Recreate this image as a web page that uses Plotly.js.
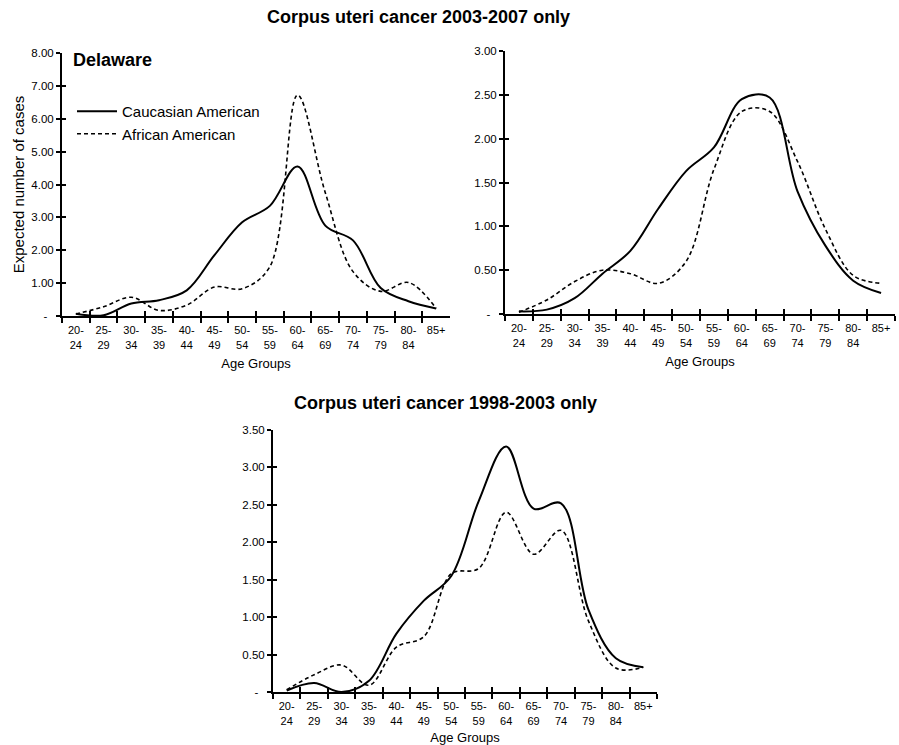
<!DOCTYPE html>
<html>
<head>
<meta charset="utf-8">
<script src="https://cdn.plot.ly/plotly-3.0.1.min.js"></script>
<style>
  html, body { margin: 0; padding: 0; background: #fff; }
  #chart { width: 899px; height: 745px; }
</style>
</head>
<body>
<div id="chart"></div>
<script>
// Age groups shown on every category axis
const ageGroups = ["20-<br>24", "25-<br>29", "30-<br>34", "35-<br>39", "40-<br>44", "45-<br>49",
  "50-<br>54", "55-<br>59", "60-<br>64", "65-<br>69", "70-<br>74", "75-<br>79", "80-<br>84", "85+"];

// Delaware, 2003-2007 (left panel)
const delawareCaucasian = [0.07, 0.02, 0.38, 0.48, 0.78, 1.85, 2.85, 3.35, 4.55, 2.75, 2.30, 0.85, 0.45, 0.23];
const delawareAfrican   = [0.06, 0.28, 0.57, 0.17, 0.33, 0.88, 0.83, 1.50, 6.72, 3.75, 1.35, 0.75, 1.02, 0.23];

// 2003-2007 (right panel)
const rightCaucasian = [0.03, 0.05, 0.18, 0.46, 0.72, 1.20, 1.63, 1.90, 2.45, 2.47, 1.40, 0.78, 0.38, 0.24];
const rightAfrican   = [0.02, 0.16, 0.37, 0.50, 0.46, 0.35, 0.60, 1.65, 2.31, 2.31, 1.74, 0.97, 0.44, 0.35];

// 1998-2003 (lower panel)
const lowerCaucasian = [0.02, 0.12, 0.00, 0.15, 0.78, 1.22, 1.55, 2.55, 3.28, 2.45, 2.52, 1.10, 0.45, 0.33];
const lowerAfrican   = [0.03, 0.23, 0.36, 0.09, 0.60, 0.74, 1.58, 1.65, 2.40, 1.84, 2.16, 0.95, 0.32, 0.33];

// y tick values for each panel
const ticksLeft  = [0, 1, 2, 3, 4, 5, 6, 7, 8];
const ticksRight = [0, 0.5, 1, 1.5, 2, 2.5, 3];
const ticksLower = [0, 0.5, 1, 1.5, 2, 2.5, 3, 3.5];

const FONT = "Liberation Sans, Arial, sans-serif";
const W = 899, H = 745;
const nbsp = "\u00a0";

// accounting-style labels: zero shown as a dash
function tickText(vals) {
  return vals.map(v => v === 0 ? "-" + nbsp + nbsp : v.toFixed(2));
}

const solid = { color: "#000", width: 2, shape: "spline", smoothing: 1 };
const dashed = { color: "#000", width: 1.6, dash: "4px,3px", shape: "spline", smoothing: 1 };

function pair(cau, afr, xa, ya, legend) {
  return [
    { x: ageGroups, y: cau, type: "scatter", mode: "lines", name: "Caucasian American",
      line: solid, xaxis: xa, yaxis: ya, showlegend: legend, hoverinfo: "skip" },
    { x: ageGroups, y: afr, type: "scatter", mode: "lines", name: "African American",
      line: dashed, xaxis: xa, yaxis: ya, showlegend: legend, hoverinfo: "skip" }
  ];
}

const boundaryVals = Array.from({ length: ageGroups.length + 1 }, (_, i) => i - 0.5);

const traces = [
  ...pair(delawareCaucasian, delawareAfrican, "x", "y", true),
  ...pair(rightCaucasian, rightAfrican, "x2", "y2", false),
  ...pair(lowerCaucasian, lowerAfrican, "x3", "y3", false),
  // empty traces so the overlay tick axes get their subplots
  { x: [], y: [], xaxis: "x4", yaxis: "y", showlegend: false, hoverinfo: "skip" },
  { x: [], y: [], xaxis: "x", yaxis: "y4", showlegend: false, hoverinfo: "skip" },
  { x: [], y: [], xaxis: "x5", yaxis: "y2", showlegend: false, hoverinfo: "skip" },
  { x: [], y: [], xaxis: "x2", yaxis: "y5", showlegend: false, hoverinfo: "skip" },
  { x: [], y: [], xaxis: "x6", yaxis: "y3", showlegend: false, hoverinfo: "skip" },
  { x: [], y: [], xaxis: "x3", yaxis: "y6", showlegend: false, hoverinfo: "skip" }
];

function xMain(x0, x1, anchor) {
  return {
    domain: [x0 / W, x1 / W], anchor: anchor, type: "category",
    range: [-0.5, ageGroups.length - 0.5], fixedrange: true,
    tickson: "boundaries", ticks: "outside", ticklen: 5, tickwidth: 2, tickcolor: "#000",
    tickangle: 0, ticklabelstandoff: 3,
    showline: true, linecolor: "#000", linewidth: 2, showgrid: false, zeroline: false,
    tickfont: { family: FONT, size: 11, color: "#000" },
    title: { text: "Age Groups", font: { family: FONT, size: 13, color: "#000" }, standoff: 9 }
  };
}
function xInner(over, anchor) {
  return {
    overlaying: over, anchor: anchor, type: "linear", range: [-0.5, ageGroups.length - 0.5],
    tickmode: "array", tickvals: boundaryVals, ticks: "inside", ticklen: 5, tickwidth: 2,
    tickcolor: "#000", showticklabels: false, showline: false, showgrid: false, zeroline: false,
    fixedrange: true
  };
}
function yMain(y0, y1, anchor, vals, top) {
  return {
    domain: [1 - y1 / H, 1 - y0 / H], anchor: anchor, range: [0, top], fixedrange: true,
    tickmode: "array", tickvals: vals, ticktext: tickText(vals),
    ticks: "outside", ticklen: 4, tickwidth: 2, tickcolor: "#000",
    showline: true, linecolor: "#000", linewidth: 2, showgrid: false, zeroline: false,
    tickfont: { family: FONT, size: 11.5, color: "#000" }
  };
}
function yInner(over, anchor, vals, top) {
  return {
    overlaying: over, anchor: anchor, range: [0, top], tickmode: "array", tickvals: vals,
    ticks: "inside", ticklen: 4, tickwidth: 2, tickcolor: "#000", showticklabels: false,
    showline: false, showgrid: false, zeroline: false, fixedrange: true
  };
}

const yLeft = yMain(53, 316, "x", ticksLeft, 8);
yLeft.title = { text: "Expected number of cases", font: { family: FONT, size: 15, color: "#000" }, standoff: 3 };

const layout = {
  width: W, height: H, autosize: false,
  margin: { l: 0, r: 0, t: 0, b: 0 },
  paper_bgcolor: "#fff", plot_bgcolor: "rgba(0,0,0,0)",
  font: { family: FONT, color: "#000" },
  xaxis: xMain(62, 450, "y"),
  yaxis: yLeft,
  xaxis2: xMain(505, 895, "y2"),
  yaxis2: yMain(51, 314, "x2", ticksRight, 3),
  xaxis3: xMain(273, 657, "y3"),
  yaxis3: yMain(430, 692, "x3", ticksLower, 3.5),
  xaxis4: xInner("x", "y"),
  yaxis4: yInner("y", "x", ticksLeft, 8),
  xaxis5: xInner("x2", "y2"),
  yaxis5: yInner("y2", "x2", ticksRight, 3),
  xaxis6: xInner("x3", "y3"),
  yaxis6: yInner("y3", "x3", ticksLower, 3.5),
  legend: {
    x: 72 / W, y: 1 - 95 / H, xanchor: "left", yanchor: "top",
    bgcolor: "rgba(0,0,0,0)", borderwidth: 0, itemwidth: 40,
    font: { family: FONT, size: 15, color: "#000" },
    tracegroupgap: 0
  },
  annotations: [
    { text: "<b>Corpus uteri cancer 2003-2007 only</b>", xref: "paper", yref: "paper",
      x: 418 / W, y: 1 - 17 / H, xanchor: "center", yanchor: "middle", showarrow: false,
      font: { family: FONT, size: 18, color: "#000" } },
    { text: "<b>Corpus uteri cancer 1998-2003 only</b>", xref: "paper", yref: "paper",
      x: 445 / W, y: 1 - 403 / H, xanchor: "center", yanchor: "middle", showarrow: false,
      font: { family: FONT, size: 18, color: "#000" } },
    { text: "<b>Delaware</b>", xref: "paper", yref: "paper",
      x: 71 / W, y: 1 - 60 / H, xanchor: "left", yanchor: "middle", showarrow: false,
      font: { family: FONT, size: 18, color: "#000" } }
  ]
};

Plotly.newPlot("chart", traces, layout, { displayModeBar: false, staticPlot: true });
</script>
</body>
</html>
